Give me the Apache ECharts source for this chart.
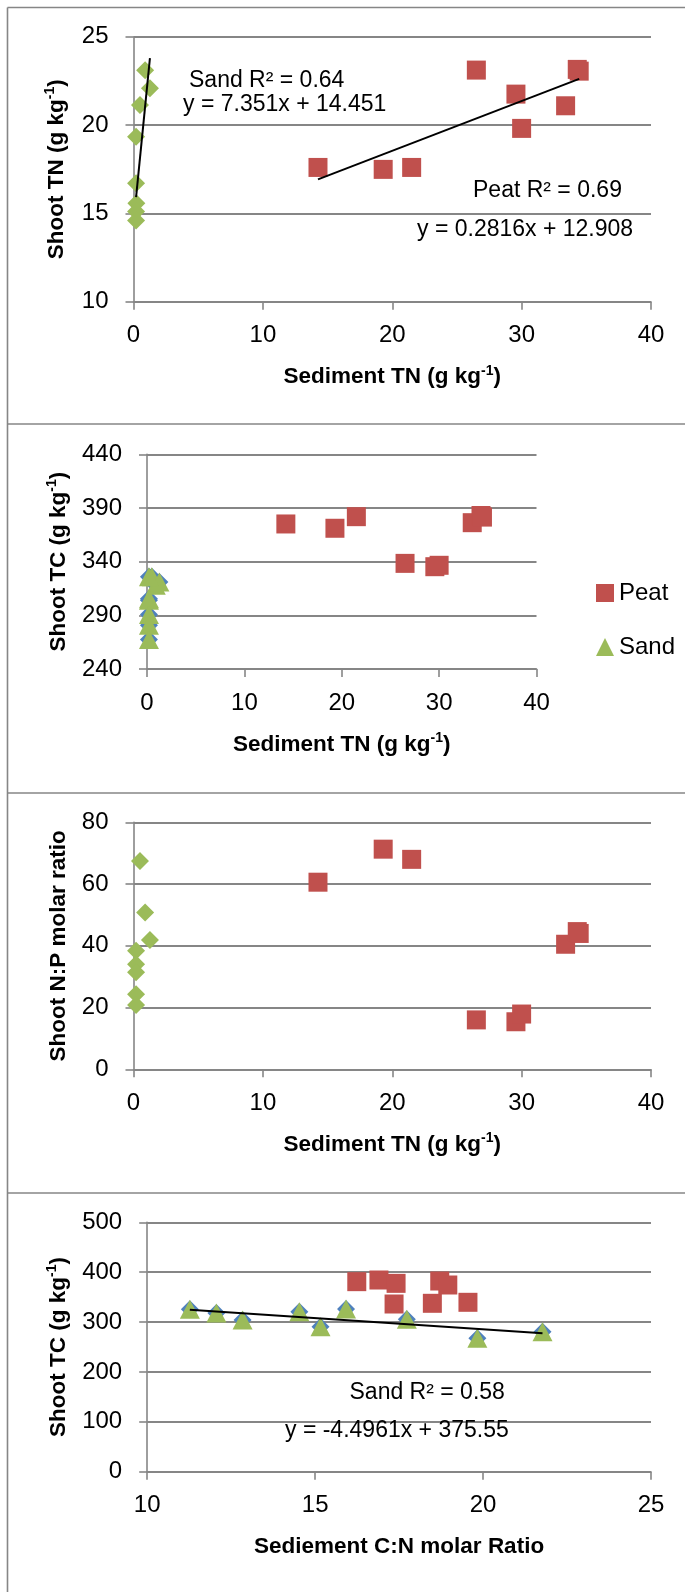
<!DOCTYPE html>
<html><head><meta charset="utf-8">
<script src="https://cdn.jsdelivr.net/npm/echarts@6/dist/echarts.min.js"></script>
<style>html,body{margin:0;padding:0;background:#fff}#c{width:685px;height:1592px}</style>
</head><body><div id="c"></div>
<script>
// ---------- Panel 1: Shoot TN vs Sediment TN ----------
const p1PeatX = [14.26, 19.3, 21.5, 26.5, 29.56, 30.0, 33.4, 34.3, 34.45];
const p1PeatY = [17.6, 17.49, 17.6, 23.11, 21.75, 19.81, 21.09, 23.15, 23.05];
const p1SandX = [0.9, 1.27, 0.5, 0.2, 0.2, 0.22, 0.2, 0.2];
const p1SandY = [23.1, 22.08, 21.13, 19.34, 16.7, 15.57, 15.1, 14.6];
const p1SandTrend = [7.351, 14.451];
const p1PeatTrend = [0.2816, 12.908];
const p1YTicks = [10, 25, 5];
// ---------- Panel 2: Shoot TC vs Sediment TN ----------
const p2PeatX = [14.26, 19.3, 21.5, 26.5, 29.56, 30.0, 33.4, 34.3, 34.45];
const p2PeatY = [375.1, 371.1, 381.9, 338.4, 335.3, 336.6, 376.3, 383.0, 381.5];
const p2SandX = [0.5, 0.9, 1.27, 0.2, 0.2, 0.2, 0.2, 0.2, 0.2];
const p2SandY = [326, 318, 321, 326, 304, 305.5, 290.7, 280.7, 267.4];
const p2YTicks = [240, 440, 50];
// ---------- Panel 3: Shoot N:P vs Sediment TN ----------
const p3PeatX = [14.26, 19.3, 21.5, 26.5, 29.56, 30.0, 33.4, 34.3, 34.45];
const p3PeatY = [60.6, 71.3, 68.0, 16.0, 15.4, 17.9, 40.5, 44.6, 44.0];
const p3SandX = [0.5, 0.9, 1.27, 0.2, 0.2, 0.2, 0.2, 0.2];
const p3SandY = [67.5, 50.75, 41.9, 38.4, 34.0, 31.4, 24.3, 20.8];
const p3YTicks = [0, 80, 20];
// ---------- Panel 4: Shoot TC vs Sediment C:N ----------
const p4PeatX = [16.24, 16.9, 17.41, 17.35, 18.49, 18.71, 18.95, 19.55];
const p4PeatY = [381, 384.3, 377.6, 336.2, 337.6, 382.3, 374.3, 339.6];
const p4SandX = [11.27, 12.06, 12.84, 14.53, 15.16, 15.92, 17.73, 19.83, 21.77];
const p4SandY = [325.8, 318.2, 304, 320.8, 290.7, 326, 305.5, 267.4, 280.7];
const p4SandTrend = [-4.4961, 375.55];
const p4YTicks = [0, 500, 100];
const tnXTicks = [0, 40, 10];
const cnXTicks = [10, 25, 5];

const RED = '#C0504D', GREEN = '#9BBB59', BLUE = '#4F81BD', GRID = '#868686';
const FONT = 'Liberation Sans, Arial, sans-serif';

const zip = (xs, ys) => xs.map((x, i) => [x, ys[i]]);
const trend = (xs, c) => {
  const a = Math.min(...xs), b = Math.max(...xs);
  return [[a, c[0] * a + c[1]], [b, c[0] * b + c[1]]];
};

const richTitle = {
  b: { fontFamily: FONT, fontWeight: 'bold', fontSize: 22.5, color: '#000', lineHeight: 27 },
  s: { fontFamily: FONT, fontWeight: 'bold', fontSize: 14, color: '#000', verticalAlign: 'top', lineHeight: 27 }
};
const unitName = (pre) => '{b|' + pre + ' (g kg}{s|-1}{b|)}';

function xAx(idx, t, name) {
  return {
    type: 'value', gridIndex: idx, min: t[0], max: t[1], interval: t[2],
    name: name, nameLocation: 'middle', nameGap: 62,
    nameTextStyle: { rich: richTitle, fontFamily: FONT, fontWeight: 'bold', fontSize: 22.5, color: '#000' },
    axisLine: { show: true, onZero: false, lineStyle: { color: GRID, width: 1.6 } },
    axisTick: { show: true, length: 8, lineStyle: { color: GRID, width: 1.6 } },
    axisLabel: { fontFamily: FONT, fontSize: 24, color: '#000', margin: 22 },
    splitLine: { show: false }
  };
}
function yAx(idx, t, name, gap) {
  return {
    type: 'value', gridIndex: idx, min: t[0], max: t[1], interval: t[2],
    name: name, nameLocation: 'middle', nameGap: gap, nameRotate: 90,
    nameTextStyle: { rich: richTitle, fontFamily: FONT, fontWeight: 'bold', fontSize: 22.5, color: '#000' },
    axisLine: { show: true, onZero: false, lineStyle: { color: GRID, width: 1.6 } },
    axisTick: { show: true, length: 8, lineStyle: { color: GRID, width: 1.6 } },
    axisLabel: { fontFamily: FONT, fontSize: 24, color: '#000', margin: 25 },
    splitLine: { show: true, lineStyle: { color: GRID, width: 2 } }
  };
}
function sc(name, idx, data, symbol, size, color, z) {
  return { type: 'scatter', name: name, xAxisIndex: idx, yAxisIndex: idx, data: data,
    symbol: symbol, symbolSize: size, itemStyle: { color: color, opacity: 1 }, z: z || 2,
    emphasis: { disabled: true }, silent: true };
}
function tl(idx, data) {
  return { type: 'line', xAxisIndex: idx, yAxisIndex: idx, data: data, symbol: 'none',
    lineStyle: { color: '#000', width: 2 }, z: 5, silent: true, animation: false };
}
function txt(x, y, s) {
  return { type: 'text', left: x, top: y - 13, style: { text: s, fontFamily: FONT, fontSize: 23, fill: '#000' }, z: 10 };
}
function ln(x1, y1, x2, y2) {
  return { type: 'line', shape: { x1: x1, y1: y1, x2: x2, y2: y2 }, style: { stroke: '#868686', lineWidth: 1.6 }, z: 0 };
}

const option = {
  animation: false,
  backgroundColor: '#fff',
  grid: [
    { left: 133.5, top: 36.7, width: 517.5, height: 265 },
    { left: 147, top: 454.3, width: 389.5, height: 214.7 },
    { left: 133.5, top: 822.3, width: 517.5, height: 247 },
    { left: 147.2, top: 1222.3, width: 503.8, height: 249.4 }
  ],
  xAxis: [
    xAx(0, tnXTicks, unitName('Sediment TN')),
    xAx(1, tnXTicks, unitName('Sediment TN')),
    xAx(2, tnXTicks, unitName('Sediment TN')),
    xAx(3, cnXTicks, '{b|Sediement C:N molar Ratio}')
  ],
  yAxis: [
    yAx(0, p1YTicks, unitName('Shoot TN'), 63),
    yAx(1, p2YTicks, unitName('Shoot TC'), 75),
    yAx(2, p3YTicks, '{b|Shoot N:P molar ratio}', 61),
    yAx(3, p4YTicks, unitName('Shoot TC'), 75)
  ],
  legend: {
    data: [{ name: 'Peat', icon: 'rect' }, { name: 'Sand', icon: 'triangle' }],
    orient: 'vertical', left: 591, top: 576, itemWidth: 18, itemHeight: 18, itemGap: 30,
    textStyle: { fontFamily: FONT, fontSize: 24, color: '#000' }, selectedMode: false
  },
  series: [
    sc('Peat', 0, zip(p1PeatX, p1PeatY), 'rect', 19, RED),
    sc('Sand', 0, zip(p1SandX, p1SandY), 'diamond', 18, GREEN),
    tl(0, trend(p1SandX, p1SandTrend)),
    tl(0, trend(p1PeatX, p1PeatTrend)),

    sc('Peat', 1, zip(p2PeatX, p2PeatY), 'rect', 19, RED),
    sc('Sand TC', 1, zip(p2SandX, p2SandY), 'diamond', 18, BLUE, 1),
    sc('Sand', 1, zip(p2SandX, p2SandY), 'triangle', [20, 19], GREEN, 3),

    sc('Peat', 2, zip(p3PeatX, p3PeatY), 'rect', 19, RED),
    sc('Sand', 2, zip(p3SandX, p3SandY), 'diamond', 18, GREEN),

    sc('Peat', 3, zip(p4PeatX, p4PeatY), 'rect', 19, RED),
    sc('Sand TC', 3, zip(p4SandX, p4SandY), 'diamond', 18, BLUE, 1),
    sc('Sand', 3, zip(p4SandX, p4SandY), 'triangle', [20, 19], GREEN, 3),
    tl(3, trend(p4SandX, p4SandTrend))
  ],
  graphic: [
    ln(7.5, 7.5, 7.5, 1592), ln(7.5, 7.5, 685, 7.5),
    ln(7.5, 424, 685, 424), ln(7.5, 793, 685, 793), ln(7.5, 1193, 685, 1193),
    txt(189, 81.7, 'Sand R² = 0.64'),
    txt(183, 106, 'y = 7.351x + 14.451'),
    txt(473, 191.7, 'Peat R² = 0.69'),
    txt(417, 231, 'y = 0.2816x + 12.908'),
    txt(349.5, 1394, 'Sand R² = 0.58'),
    txt(285, 1431.7, 'y = -4.4961x + 375.55')
  ]
};
const chart = echarts.init(document.getElementById('c'), null, { renderer: 'canvas' });
chart.setOption(option);
</script></body></html>
